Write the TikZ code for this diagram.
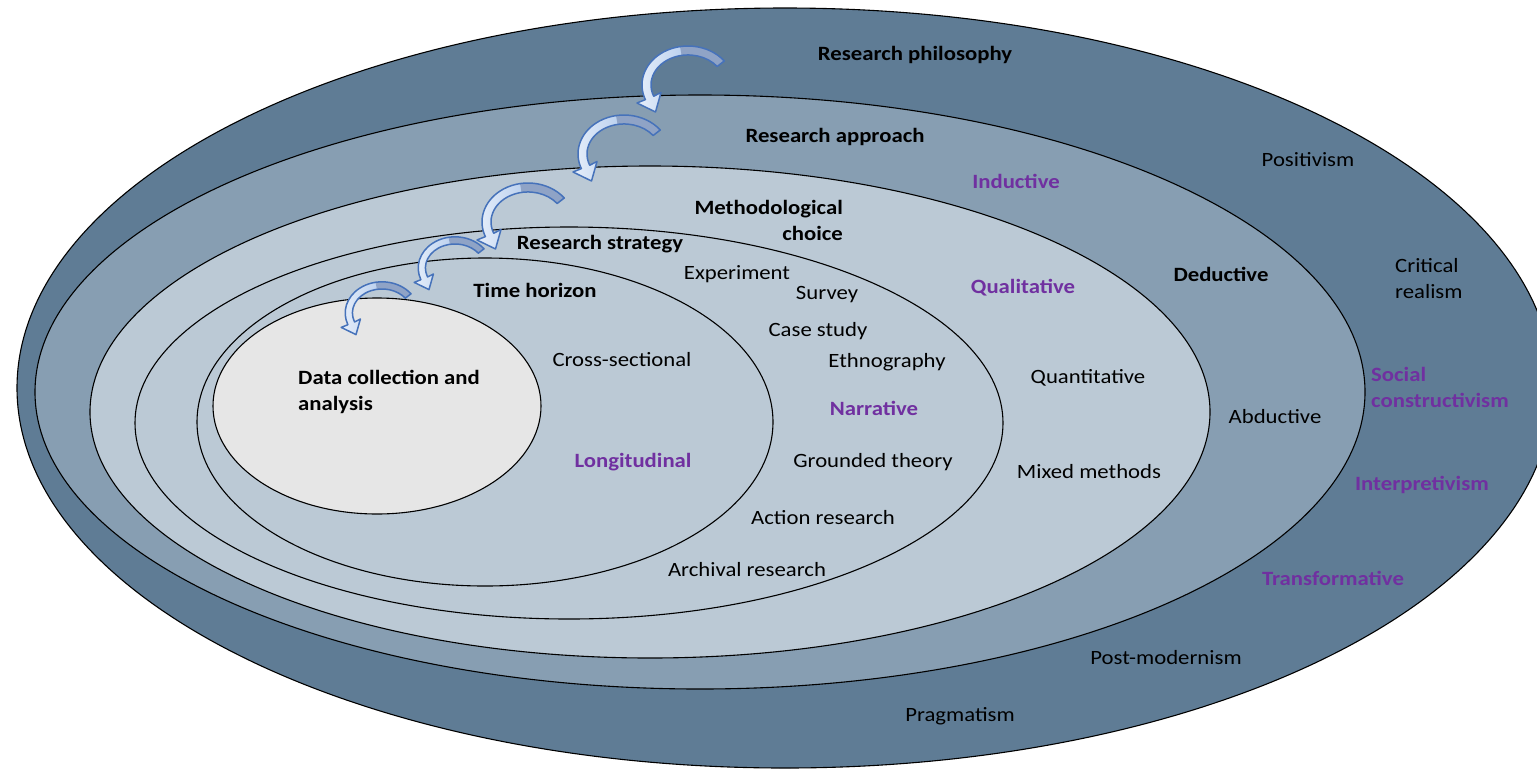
\documentclass[tikz,border=0pt]{standalone}
\usepackage{fontspec}
\setmainfont{Carlito}[FakeStretch=1.12]
\definecolor{ringA}{RGB}{95,124,149}
\definecolor{ringB}{RGB}{135,158,178}
\definecolor{ringC}{RGB}{187,201,213}
\definecolor{core}{RGB}{230,230,230}
\definecolor{violet}{RGB}{112,48,160}
\definecolor{arrowline}{RGB}{70,114,186}
\definecolor{arrowback}{RGB}{143,163,198}
\definecolor{arrowlight}{RGB}{230,238,250}
\definecolor{arrowblue}{RGB}{150,183,228}
\tikzset{
  txt/.style={font=\fontsize{20.3}{26}\selectfont, inner sep=0pt, text=black},
  bd/.style={font=\fontsize{20.3}{26}\selectfont\bfseries, inner sep=0pt, text=black},
  pr/.style={bd, text=violet},
  ring/.style={draw=black, line width=1.1pt},
  curvarrow/.pic={
    \begin{scope}[yscale=-1]
      % whole ribbon with the arrow head
      \path[left color=arrowlight, right color=arrowblue]
        (36.25,24.01) arc[start angle=38, end angle=202, x radius=46, y radius=39]
        -- (-51,-18) -- (-32.5,-27) -- (-27,-7.5) -- (-34.3,-11.2)
        arc[start angle=202, end angle=38, x radius=37, y radius=30] -- cycle;
      % back side of the ribbon
      \fill[arrowback]
        (36.25,24.01) arc[start angle=38, end angle=100, x radius=46, y radius=39]
        -- (-6.4,29.5) arc[start angle=100, end angle=38, x radius=37, y radius=30] -- cycle;
      \draw[arrowline, line width=1.5pt, line join=round]
        (36.25,24.01) arc[start angle=38, end angle=202, x radius=46, y radius=39]
        -- (-51,-18) -- (-32.5,-27) -- (-27,-7.5) -- (-34.3,-11.2)
        arc[start angle=202, end angle=38, x radius=37, y radius=30] -- cycle;
    \end{scope}
  }
}
\begin{document}
\begin{tikzpicture}[x=1pt,y=-1pt]
\useasboundingbox (0,0) rectangle (1537,769);

% nested layers of the onion
\fill[ringA] (785,388) ellipse [x radius=768, y radius=380];
\draw[ring] (785,388) ellipse [x radius=768, y radius=380];
\filldraw[ring, fill=ringB] (700,392) ellipse [x radius=665, y radius=297];
\filldraw[ring, fill=ringC] (650,412) ellipse [x radius=560, y radius=246];
\draw[ring] (569,423) ellipse [x radius=434, y radius=196];
\draw[ring] (485,422) ellipse [x radius=288, y radius=164];
\filldraw[ring, fill=core] (377,406) ellipse [x radius=164, y radius=108];

% curved arrows stepping inward
\pic[scale=0.8] (a5) at (382,313) {curvarrow};
\pic[scale=0.8] (a4) at (455,268) {curvarrow};
\pic (a3) at (528,222) {curvarrow};
\pic (a2) at (624,154) {curvarrow};
\pic (a1) at (688,85) {curvarrow};

% layer titles
\node[bd] (philo) at (915,55) {Research philosophy};
\node[bd] (appr) at (835,137) {Research approach};
\node[bd, align=right, anchor=east] (meth) at (843,220) {Methodological\\choice};
\node[bd] (strat) at (600,244) {Research strategy};
\node[bd] (time) at (535,290) {Time horizon};
\node[bd, align=left, anchor=west] (data) at (298,392) {Data collection and\\analysis};

% philosophies
\node[txt] (pos) at (1308,160) {Positivism};
\node[txt, align=left, anchor=west] (crit) at (1395,279) {Critical\\realism};
\node[pr, align=left, anchor=west] (soc) at (1371,387) {Social\\constructivism};
\node[pr] (interp) at (1422,485) {Interpretivism};
\node[pr] (trans) at (1333,578) {Transformative};
\node[txt] (postm) at (1166,658) {Post-modernism};
\node[txt] (prag) at (960,716) {Pragmatism};

% approaches
\node[pr] (ind) at (1016,181) {Inductive};
\node[bd] (ded) at (1221,274) {Deductive};
\node[txt] (abd) at (1275,417) {Abductive};

% methodological choices
\node[pr] (qual) at (1023,288) {Qualitative};
\node[txt] (quant) at (1088,378) {Quantitative};
\node[txt] (mixed) at (1089,472) {Mixed methods};

% strategies
\node[txt] (exp) at (737,274) {Experiment};
\node[txt] (surv) at (827,295) {Survey};
\node[txt] (case) at (818,331) {Case study};
\node[txt] (ethno) at (887,362) {Ethnography};
\node[pr] (narr) at (874,408) {Narrative};
\node[txt] (ground) at (873,462) {Grounded theory};
\node[txt] (action) at (823,518) {Action research};
\node[txt] (arch) at (747,570) {Archival research};

% time horizons
\node[txt] (cross) at (622,360) {Cross-sectional};
\node[pr] (longi) at (633,462) {Longitudinal};
\end{tikzpicture}
\end{document}
